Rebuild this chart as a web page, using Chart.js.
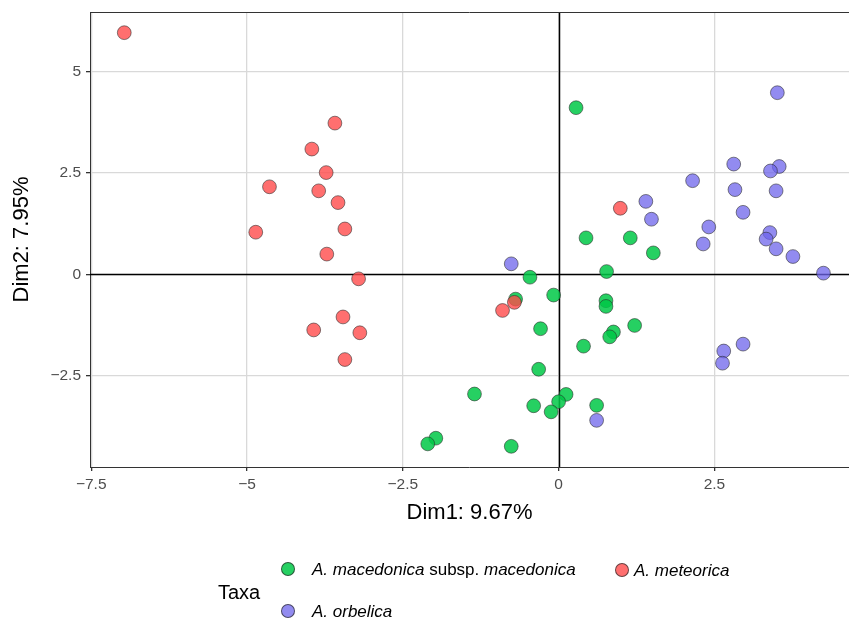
<!DOCTYPE html>
<html lang="en">
<head>
  <meta charset="UTF-8" />
  <title>PCA Taxa</title>
  <script src="https://cdn.jsdelivr.net/npm/chart.js@4.4.1/dist/chart.umd.min.js"></script>
  <style>
    body { margin: 0; background: #fff; font-family: "Liberation Sans", Arial, sans-serif; }
    #wrap { position: relative; width: 849px; height: 621px; }
    #chart { position: absolute; left: 0; top: 0; }
    .lg { position: absolute; font-size: 17px; color: #000; white-space: nowrap; line-height: 1; }
    .dot { position: absolute; width: 12px; height: 12px; border-radius: 50%; border: 1px solid rgba(40,40,40,0.7); }
  </style>
</head>
<body>
  <div id="wrap">
    <canvas id="chart" width="849" height="621"></canvas>
    <div class="lg" style="left:218px; top:582px; font-size:20px;">Taxa</div>
    <div class="dot" style="left:281px; top:562px; background: rgba(0,200,70,0.85);"></div>
    <div class="lg" style="left:312px; top:561px;"><i>A. macedonica</i> subsp. <i>macedonica</i></div>
    <div class="dot" style="left:615px; top:563px; background: rgba(255,75,75,0.8);"></div>
    <div class="lg" style="left:634px; top:562px;"><i>A. meteorica</i></div>
    <div class="dot" style="left:281px; top:604px; background: rgba(110,100,235,0.75);"></div>
    <div class="lg" style="left:312px; top:603px;"><i>A. orbelica</i></div>
  </div>

  <script>
    // data (Dim1, Dim2)
    const macedonicaX = [0.28, 0.44, -0.46, 0.77, -0.69, -0.08, 0.76, 0.76, -0.29, 0.40, -0.32, -1.35, 0.12,
                         0.00, -0.40, -0.12, 0.61, -1.97, -2.10, -0.76, 1.15, 1.52, 0.88, 0.82, 1.22];
    const macedonicaY = [4.11, 0.90, -0.07, 0.07, -0.61, -0.51, -0.65, -0.79, -1.34, -1.77, -2.34, -2.95, -2.96,
                         -3.14, -3.24, -3.39, -3.23, -4.04, -4.18, -4.24, 0.90, 0.53, -1.42, -1.54, -1.26];

    const meteoricaX = [-6.97, -3.59, -3.96, -3.73, -4.64, -3.85, -3.54, -4.86, -3.43, -3.72, -3.21, -3.46,
                        -3.93, -3.19, -3.43, -0.90, -0.71, 0.99];
    const meteoricaY = [5.96, 3.73, 3.09, 2.51, 2.16, 2.06, 1.77, 1.04, 1.12, 0.50, -0.11, -1.05,
                        -1.37, -1.44, -2.10, -0.89, -0.69, 1.63];

    const orbelicaX = [-0.76, 0.61, 3.51, 2.81, 3.54, 3.40, 2.15, 2.83, 3.49, 1.40, 1.49, 2.96, 2.41, 3.39,
                       3.33, 2.32, 3.49, 3.76, 4.25, 2.96, 2.65, 2.63];
    const orbelicaY = [0.26, -3.60, 4.48, 2.72, 2.66, 2.55, 2.31, 2.09, 2.06, 1.80, 1.36, 1.53, 1.17, 1.03,
                       0.87, 0.75, 0.63, 0.44, 0.03, -1.72, -1.89, -2.19];

    const xTicks = [-7.5, -5, -2.5, 0, 2.5];
    const yTicks = [-2.5, 0, 2.5, 5];

    const toPoints = (xs, ys) => xs.map((x, i) => ({ x, y: ys[i] }));
    const fmt = v => (v < 0 ? "\u2212" + Math.abs(v) : String(v));

    // zero lines + top border of the panel
    const panelLines = {
      id: "panelLines",
      beforeDatasetsDraw(chart) {
        const { ctx, chartArea: a, scales: { x, y } } = chart;
        ctx.save();
        ctx.strokeStyle = "#000";
        ctx.lineWidth = 1.5;
        const x0 = Math.round(x.getPixelForValue(0)) + 0.5;
        const y0 = Math.round(y.getPixelForValue(0)) + 0.5;
        ctx.beginPath();
        ctx.moveTo(x0, a.top); ctx.lineTo(x0, a.bottom);
        ctx.moveTo(a.left, y0); ctx.lineTo(a.right, y0);
        ctx.stroke();
        ctx.strokeStyle = "#333";
        ctx.lineWidth = 1;
        ctx.beginPath();
        ctx.moveTo(a.left, a.top + 0.5); ctx.lineTo(a.right, a.top + 0.5);
        ctx.stroke();
        ctx.restore();
      }
    };

    const ds = (label, xs, ys, fill, order) => ({
      label,
      data: toPoints(xs, ys),
      backgroundColor: fill,
      borderColor: "rgba(40,40,40,0.7)",
      borderWidth: 0.8,
      pointRadius: 6.9,
      pointHoverRadius: 6.9,
      order
    });

    new Chart(document.getElementById("chart"), {
      type: "scatter",
      data: {
        datasets: [
          ds("A. macedonica subsp. macedonica", macedonicaX, macedonicaY, "rgba(0,200,70,0.85)", 3),
          ds("A. meteorica", meteoricaX, meteoricaY, "rgba(255,75,75,0.8)", 1),
          ds("A. orbelica", orbelicaX, orbelicaY, "rgba(110,100,235,0.75)", 2)
        ]
      },
      options: {
        responsive: false,
        animation: false,
        layout: { autoPadding: false, padding: { top: 12, right: 0, bottom: 95, left: 0 } },
        plugins: { legend: { display: false }, tooltip: { enabled: false } },
        scales: {
          x: {
            type: "linear",
            min: -7.52,
            max: 4.66,
            afterBuildTicks: s => { s.ticks = xTicks.map(v => ({ value: v })); },
            afterFit: s => { s.height = 59; s.paddingLeft = 0; s.paddingRight = 0; },
            grid: { color: "#D9D9D9", lineWidth: 1.3, tickLength: 4, tickColor: "#333" },
            border: { display: true, color: "#333", width: 1 },
            ticks: {
              padding: 4,
              color: "#4D4D4D",
              font: { family: "Liberation Sans", size: 15.5 },
              callback: v => fmt(v)
            },
            title: {
              display: true,
              text: "Dim1: 9.67%",
              color: "#000",
              font: { family: "Liberation Sans", size: 22 },
              padding: { top: 4, bottom: 0 }
            }
          },
          y: {
            type: "linear",
            min: -4.75,
            max: 6.47,
            afterBuildTicks: s => { s.ticks = yTicks.map(v => ({ value: v })); },
            afterFit: s => { s.width = 90; s.paddingTop = 0; s.paddingBottom = 0; },
            grid: { color: "#D9D9D9", lineWidth: 1.3, tickLength: 4, tickColor: "#333" },
            border: { display: true, color: "#333", width: 1 },
            ticks: {
              padding: 5,
              color: "#4D4D4D",
              font: { family: "Liberation Sans", size: 15.5 },
              callback: v => fmt(v)
            },
            title: {
              display: true,
              text: "Dim2: 7.95%",
              color: "#000",
              font: { family: "Liberation Sans", size: 22 },
              padding: { top: 9, bottom: 0 }
            }
          }
        }
      },
      plugins: [panelLines]
    });
  </script>
</body>
</html>
